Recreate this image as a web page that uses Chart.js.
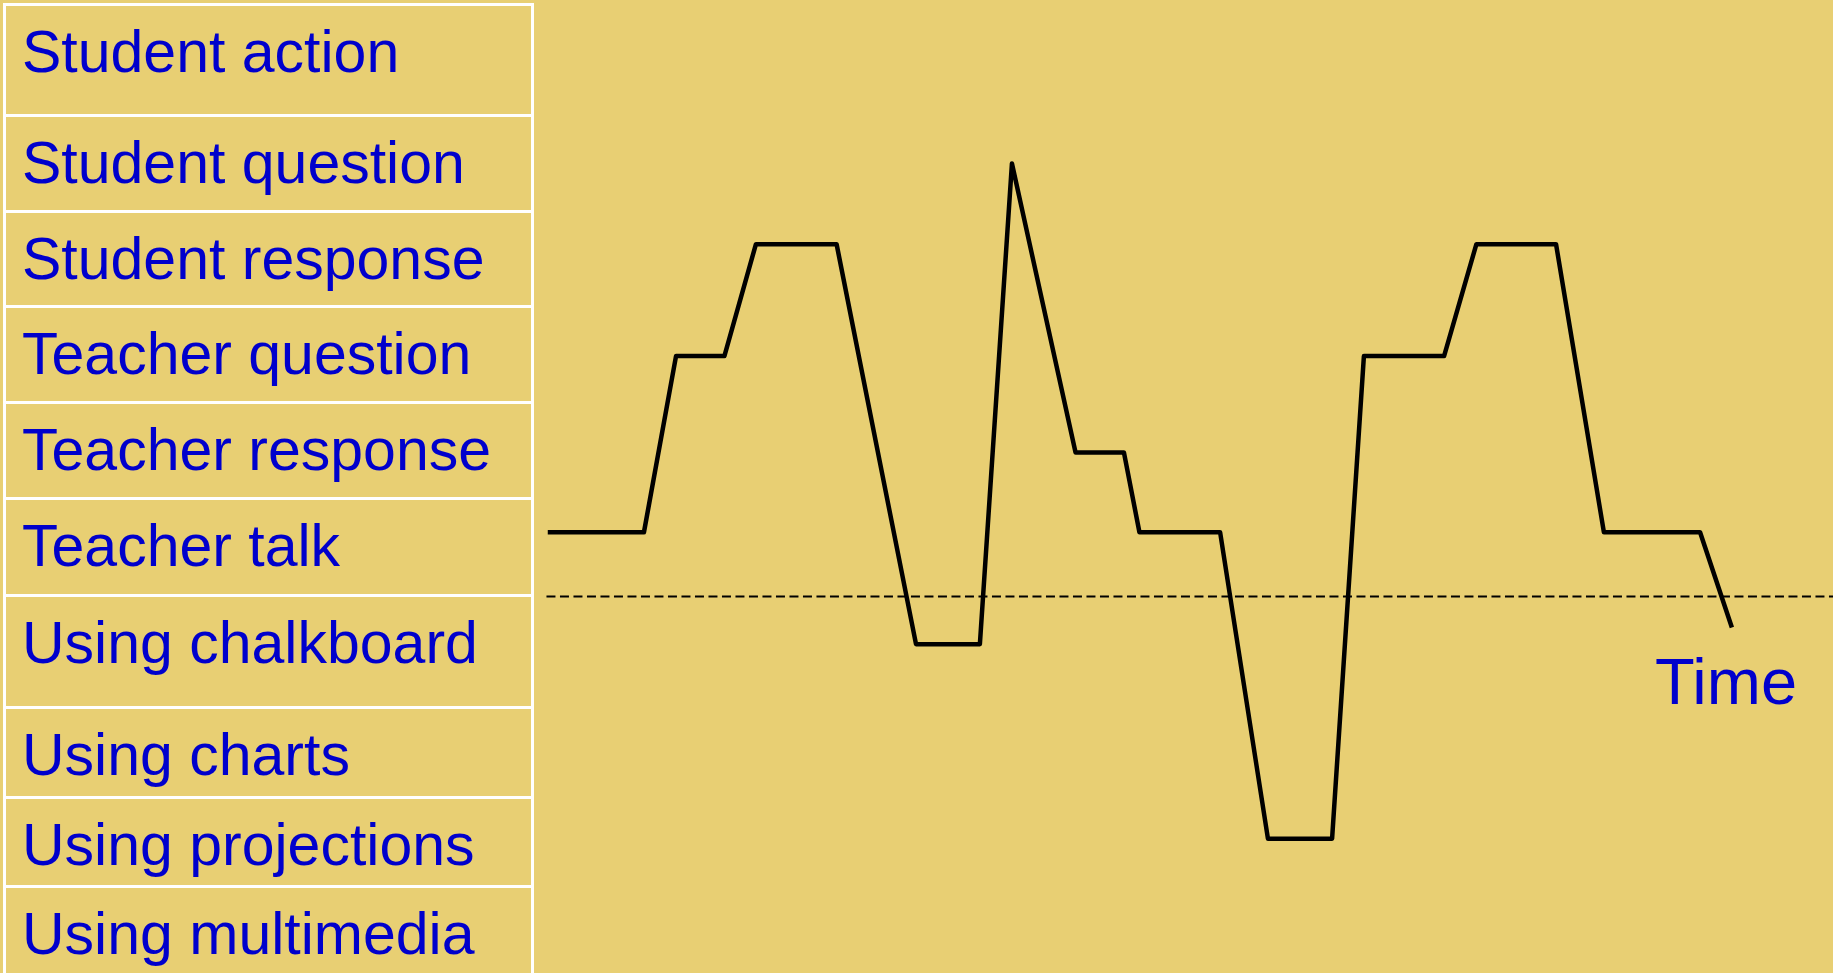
<!DOCTYPE html>
<html>
<head>
<meta charset="utf-8">
<script src="https://cdn.jsdelivr.net/npm/chart.js@4.4.1/dist/chart.umd.min.js"></script>
<style>
  html, body { margin: 0; padding: 0; }
  body { width: 1833px; height: 973px; background: #E8CF73; overflow: hidden; position: relative;
         font-family: "Liberation Sans", Arial, Helvetica, sans-serif; }
  .row { position: absolute; left: 3px; width: 531px; box-sizing: border-box;
         border-top: 3px solid #fff; border-left: 3px solid #fff; border-right: 3px solid #fff;
         color: #0000CC; font-size: 59px; line-height: 59px; padding-left: 16px; padding-top: 17px;
         white-space: nowrap; }
  #timeLabel { position: absolute; left: 1655px; top: 649px; color: #0000CC; font-size: 65px; line-height: 65px; }
  #wrap { position: absolute; left: 540px; top: 0; width: 1293px; height: 973px; }
</style>
</head>
<body>
<div id="table"></div>
<div id="wrap"><canvas id="c" width="1293" height="973"></canvas></div>
<div id="timeLabel"></div>
<script>
// ---- data ----
const activityCategories = [
  "Student action", "Student question", "Student response", "Teacher question",
  "Teacher response", "Teacher talk", "Using chalkboard", "Using charts",
  "Using projections", "Using multimedia"
];
const timeValues = [0, 3.72, 4.96, 6.83, 8.05, 11.17, 14.24, 16.71, 17.95, 20.41, 22.28,
                    22.88, 26.00, 27.85, 30.33, 31.56, 34.66, 35.91, 38.99, 40.84, 44.56, 45.79];
const levelValues = [4.53, 4.53, 6.34, 6.34, 7.49, 7.49, 3.38, 3.38, 8.32, 5.35, 5.35,
                     4.53, 4.53, 1.38, 1.38, 6.34, 6.34, 7.49, 7.49, 4.53, 4.53, 3.55];
const baselineLevel = 3.87;
const baselineTimeRange = [-0.05, 49.7];
const axisLabel = "Time";

// ---- layout (not data) ----
const rowTops = [3, 114, 210, 305, 401, 497, 594, 706, 796, 885];
const table = document.getElementById('table');
activityCategories.forEach((name, i) => {
  const d = document.createElement('div');
  d.className = 'row';
  const top = rowTops[i];
  const bottom = i + 1 < rowTops.length ? rowTops[i + 1] : 1000;
  d.style.top = top + 'px';
  d.style.height = (bottom - top) + 'px';
  d.textContent = name;
  table.appendChild(d);
});
document.getElementById('timeLabel').textContent = axisLabel;

const mainLine = timeValues.map((t, i) => ({ x: t, y: levelValues[i] }));
const refLine = baselineTimeRange.map(t => ({ x: t, y: baselineLevel }));

new Chart(document.getElementById('c'), {
  type: 'scatter',
  data: {
    datasets: [
      {
        data: refLine, showLine: true, borderColor: '#000', borderWidth: 2,
        borderDash: [9, 4.5], pointRadius: 0, tension: 0, fill: false
      },
      {
        data: mainLine, showLine: true, borderColor: '#000', borderWidth: 4.5,
        borderJoinStyle: 'round', borderCapStyle: 'butt',
        pointRadius: 0, tension: 0, fill: false
      }
    ]
  },
  options: {
    responsive: false, animation: false, devicePixelRatio: 1,
    layout: { padding: 0 },
    plugins: { legend: { display: false }, tooltip: { enabled: false } },
    scales: {
      x: { type: 'linear', min: -0.3, max: 49.7, display: false },
      y: { type: 'linear', min: 0, max: 10, display: false }
    }
  }
});
</script>
</body>
</html>
